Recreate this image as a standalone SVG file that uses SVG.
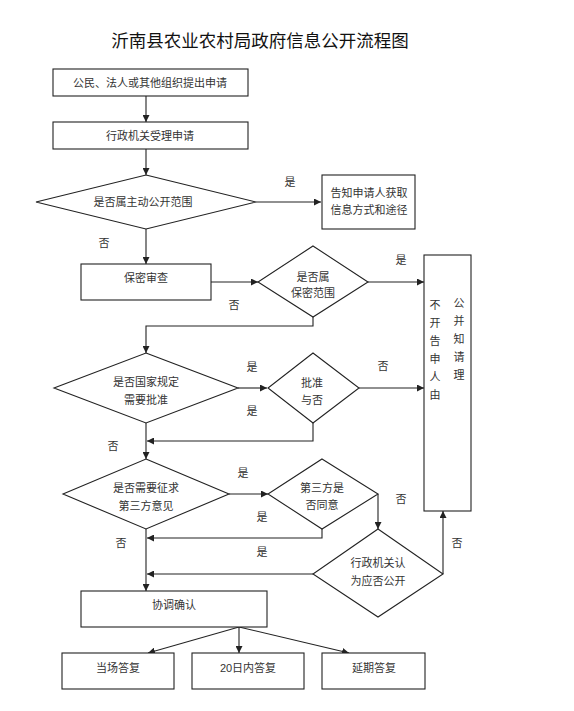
<svg xmlns="http://www.w3.org/2000/svg" width="574" height="711" viewBox="0 0 574 711">
<defs>
<style>
.s{fill:#fff;stroke:#222;stroke-width:1.1}
.t{font-family:"Liberation Sans","Noto Sans CJK SC",sans-serif;font-size:11px;fill:#333;text-anchor:middle}
.l{font-family:"Liberation Sans","Noto Sans CJK SC",sans-serif;font-size:11px;fill:#333;text-anchor:middle}
.c{fill:none;stroke:#222;stroke-width:1.1}
</style>
<marker id="a" viewBox="0 0 10 10" refX="10" refY="5" markerWidth="7" markerHeight="7" markerUnits="userSpaceOnUse" orient="auto">
<path d="M0,0 L10,5 L0,10 z" fill="#222"/>
</marker>
</defs>
<rect width="574" height="711" fill="#fff"/>
<text x="260" y="47" font-family="'Noto Sans CJK SC',sans-serif" font-size="17.5" fill="#111" text-anchor="middle">沂南县农业农村局政府信息公开流程图</text>

<g id="connectors" class="c">
<path d="M146,96 V122" marker-end="url(#a)"/>
<path d="M146,149 V175" marker-end="url(#a)"/>
<path d="M256,202 H321" marker-end="url(#a)"/>
<path d="M146,229 V264" marker-end="url(#a)"/>
<path d="M211,282 H258" marker-end="url(#a)"/>
<path d="M368,282 H424" marker-end="url(#a)"/>
<path d="M313,317 V326 H146 V353" marker-end="url(#a)"/>
<path d="M238,388 H267" marker-end="url(#a)"/>
<path d="M359,388 H424" marker-end="url(#a)"/>
<path d="M313,423 V441 H147" marker-end="url(#a)"/>
<path d="M146,423 V459" marker-end="url(#a)"/>
<path d="M229,494 H268" marker-end="url(#a)"/>
<path d="M378,494 V529" marker-end="url(#a)"/>
<path d="M322,529 V538 H147" marker-end="url(#a)"/>
<path d="M313,574 H147" marker-end="url(#a)"/>
<path d="M443,574 V511" marker-end="url(#a)"/>
<path d="M146,529 V591" marker-end="url(#a)"/>
<path d="M239,627 L148,653" marker-end="url(#a)"/>
<path d="M239,627 V653" marker-end="url(#a)"/>
<path d="M239,627 L349,653" marker-end="url(#a)"/>
</g>

<g id="labels">
<text class="l" x="290" y="186">是</text>
<text class="l" x="104" y="247">否</text>
<text class="l" x="234" y="309">否</text>
<text class="l" x="401" y="264">是</text>
<text class="l" x="252" y="371">是</text>
<text class="l" x="383" y="370">否</text>
<text class="l" x="252" y="415">是</text>
<text class="l" x="113" y="450">否</text>
<text class="l" x="243" y="477">是</text>
<text class="l" x="401" y="503">否</text>
<text class="l" x="262" y="521">是</text>
<text class="l" x="121" y="547">否</text>
<text class="l" x="262" y="556">是</text>
<text class="l" x="457" y="547">否</text>
</g>

<g id="n1"><rect class="s" x="53" y="69" width="195" height="27"/><text class="t" x="150" y="87">公民、法人或其他组织提出申请</text></g>
<g id="n2"><rect class="s" x="53" y="122" width="195" height="27"/><text class="t" x="150" y="140">行政机关受理申请</text></g>
<g id="n3"><polygon class="s" points="146,175 256,202 146,229 36,202"/><text class="t" x="143" y="206">是否属主动公开范围</text></g>
<g id="n4"><rect class="s" x="322" y="175" width="93" height="54"/><text class="t" x="369" y="197">告知申请人获取</text><text class="t" x="369" y="214">信息方式和途径</text></g>
<g id="n5"><rect class="s" x="81" y="264" width="130" height="36"/><text class="t" x="146" y="282">保密审查</text></g>
<g id="n6"><polygon class="s" points="313,246 368,282 313,317 258,282"/><text class="t" x="313" y="281">是否属</text><text class="t" x="313" y="297">保密范围</text></g>
<g id="n7"><rect class="s" x="424" y="255" width="47" height="256"/>
<text class="t" x="435" y="309">不</text><text class="t" x="459" y="307">公</text>
<text class="t" x="435" y="327">开</text><text class="t" x="459" y="325">并</text>
<text class="t" x="435" y="345">告</text><text class="t" x="459" y="343">知</text>
<text class="t" x="435" y="363">申</text><text class="t" x="459" y="361">请</text>
<text class="t" x="435" y="381">人</text><text class="t" x="459" y="379">理</text>
<text class="t" x="435" y="399">由</text></g>
<g id="n8"><polygon class="s" points="146,353 238,388 146,423 54,388"/><text class="t" x="146" y="386">是否国家规定</text><text class="t" x="146" y="404">需要批准</text></g>
<g id="n9"><polygon class="s" points="313,353 359,388 313,423 268,388"/><text class="t" x="312" y="387">批准</text><text class="t" x="312" y="404">与否</text></g>
<g id="n10"><polygon class="s" points="146,459 229,494 146,529 63,494"/><text class="t" x="146" y="492">是否需要征求</text><text class="t" x="146" y="510">第三方意见</text></g>
<g id="n11"><polygon class="s" points="322,459 378,494 322,529 268,494"/><text class="t" x="322" y="492">第三方是</text><text class="t" x="322" y="509">否同意</text></g>
<g id="n12"><polygon class="s" points="378,529 443,574 378,617 313,574"/><text class="t" x="378" y="567">行政机关认</text><text class="t" x="378" y="585">为应否公开</text></g>
<g id="n13"><rect class="s" x="81" y="591" width="186" height="36"/><text class="t" x="174" y="609">协调确认</text></g>
<g id="n14"><rect class="s" x="62" y="653" width="112" height="36"/><text class="t" x="118" y="672">当场答复</text></g>
<g id="n15"><rect class="s" x="192" y="653" width="112" height="36"/><text class="t" x="248" y="672">20日内答复</text></g>
<g id="n16"><rect class="s" x="322" y="653" width="103" height="36"/><text class="t" x="374" y="672">延期答复</text></g>
</svg>
